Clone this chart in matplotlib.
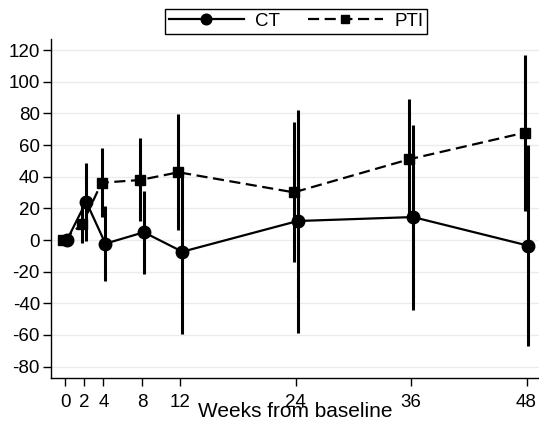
import matplotlib
matplotlib.use("Agg")
import matplotlib.pyplot as plt
import numpy as np

plt.rcParams['font.family'] = ['Liberation Sans', 'DejaVu Sans']
plt.rcParams['axes.unicode_minus'] = False

weeks = [0, 2, 4, 8, 12, 24, 36, 48]

ct_mean = [0, 24.2, -2.3, 4.9, -7.4, 12.0, 14.5, -3.6]
ct_lo = [0, -0.4, -25.9, -21.5, -59.6, -59.0, -44.2, -67.0]
ct_hi = [0, 48.4, 21.5, 31.1, 40.0, 82.1, 72.6, 60.0]

pti_mean = [0, 10.1, 36.2, 37.9, 42.8, 30.1, 51.0, 67.8]
pti_lo = [0, -2.0, 14.7, 12.2, 6.3, -13.7, 13.0, 18.5]
pti_hi = [0, 22.0, 58.3, 64.2, 79.6, 74.7, 89.0, 116.8]

yticks = list(range(-80, 121, 20))

# small horizontal offset so the two groups don't overlap
off = 0.2
x_ct = np.array(weeks) + off
x_pti = np.array(weeks) - off

fig = plt.figure(figsize=(5.39, 4.23), dpi=100)
ax = fig.add_axes([51 / 539, 1 - 377.7 / 423, (539 - 51) / 539, (377.7 - 39) / 423])

ax.vlines(x_ct, ct_lo, ct_hi, color='black', lw=2.2)
ax.vlines(x_pti, pti_lo, pti_hi, color='black', lw=2.2)

ax.plot(x_ct, ct_mean, color='black', lw=1.6, marker='o', markersize=9, label='CT')
ax.plot(x_pti, pti_mean, color='black', lw=1.6, marker='s', markersize=7,
        dashes=(5, 2.5), label='PTI')

ax.set_xlim(-1.46, 49.3)
ax.set_ylim(-87, 127)
ax.set_xticks(weeks)
ax.set_yticks(yticks)
ax.grid(axis='y', color='#ebebeb', lw=1)
ax.set_axisbelow(True)

for s in ['top', 'right']:
    ax.spines[s].set_visible(False)
ax.spines['left'].set_linewidth(1)
ax.spines['bottom'].set_linewidth(1)

ax.tick_params(axis='x', length=5.5, width=1, pad=6, labelsize=13.5)
ax.tick_params(axis='y', length=6, width=1, pad=2, labelsize=13.5)

ax.set_xlabel('Weeks from baseline', fontsize=15)
ax.xaxis.label.set_va('baseline')
ax.xaxis.set_label_coords(0.5, (377.7 - 416.7) / 338.7)

leg = fig.legend(loc='upper center', bbox_to_anchor=(296 / 539, 1 - 9 / 423), ncol=2,
                 frameon=True, fancybox=False, edgecolor='black', framealpha=1,
                 fontsize=13.5, handlelength=4, columnspacing=1.5, borderpad=0.2,
                 handletextpad=0.6, markerscale=0.85, borderaxespad=0)
leg.get_frame().set_linewidth(1)

fig.savefig('out.png', dpi=100)
